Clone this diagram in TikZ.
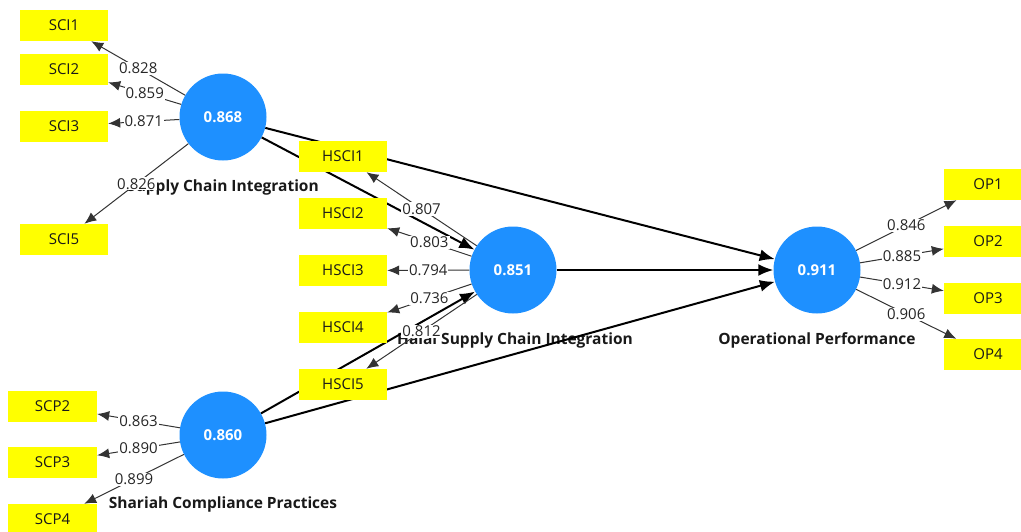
\documentclass[tikz,border=0pt]{standalone}
\usepackage{fontspec}
\setmainfont{Open Sans}
\usetikzlibrary{arrows.meta,positioning}
\definecolor{lvblue}{RGB}{30,144,255}
\definecolor{mvyellow}{RGB}{255,255,0}
\pgfdeclarelayer{back}
\pgfsetlayers{back,main}

\begin{document}
\begin{tikzpicture}[x=1pt,y=-1pt,>=Latex,
    lv/.style={circle,fill=lvblue,minimum size=87pt,inner sep=0pt,text=white,font=\fontsize{15}{17}\selectfont\bfseries},
    mv/.style={fill=mvyellow,minimum width=88pt,minimum height=31pt,inner sep=0pt,text=black!90,font=\fontsize{15}{17}\selectfont},
    lvname/.style={inner sep=0pt,text=black!90,font=\fontsize{15.5}{17}\selectfont\bfseries},
    struct/.style={->,line width=2pt,>={Latex[length=15pt,width=12pt]}},
    loading/.style={->,line width=1pt,black!80,>={Latex[length=12pt,width=10pt]}},
    wt/.style={fill=white,inner sep=1pt,text=black!85,font=\fontsize{15}{17}\selectfont}]
    \useasboundingbox (0,0) rectangle (1021,531);
    % latent variables
    \node[lv] (sci) at (223,117) {0.868};
    \node[lv] (hsci) at (513,270) {0.851};
    \node[lv] (scp) at (223,435) {0.860};
    \node[lv] (op) at (817,270) {0.911};
    % indicators
    \foreach \n/\y in {1/25.5,2/69,3/126,5/239.5}
      \node[mv] (sci\n) at (64,\y) {SCI\n};
    \foreach \n/\y in {1/156.5,2/213.5,3/270.5,4/327.5,5/384.5}
      \node[mv] (hsci\n) at (343,\y) {HSCI\n};
    \foreach \n/\y in {2/406.5,3/462.5,4/519.5}
      \node[mv,minimum width=89pt] (scp\n) at (52.5,\y) {SCP\n};
    \foreach \n/\y in {1/184.5,2/241.5,3/298,4/354.5}
      \node[mv] (op\n) at (988,\y) {OP\n};
    % names and inner model behind the boxes
    \begin{pgfonlayer}{back}
      \node[lvname] (sciname) at (223,187) {Supply Chain Integration};
      \node[lvname] (hsciname) at (515,340) {Halal Supply Chain Integration};
      \node[lvname] (scpname) at (223,504) {Shariah Compliance Practices};
      \node[lvname] (opname) at (817,340) {Operational Performance};
      \draw[struct] (sci) -- (op);
      \draw[struct] (sci) -- (hsci);
      \draw[struct] (hsci) -- (op);
      \draw[struct] (scp) -- (op);
      \draw[struct] (scp) -- (hsci);
    \end{pgfonlayer}
    % outer loadings
    \foreach \n/\w in {1/0.828,2/0.859,3/0.871,5/0.826}
      \draw[loading] (sci) -- node[wt]{\w} (sci\n);
    \foreach \n/\w in {1/0.807,2/0.803,3/0.794,4/0.736,5/0.812}
      \draw[loading] (hsci) -- node[wt]{\w} (hsci\n);
    \foreach \n/\w in {2/0.863,3/0.890,4/0.899}
      \draw[loading] (scp) -- node[wt]{\w} (scp\n);
    \foreach \n/\w in {1/0.846,2/0.885,3/0.912,4/0.906}
      \draw[loading] (op) -- node[wt]{\w} (op\n);
  \end{tikzpicture}
\end{document}
